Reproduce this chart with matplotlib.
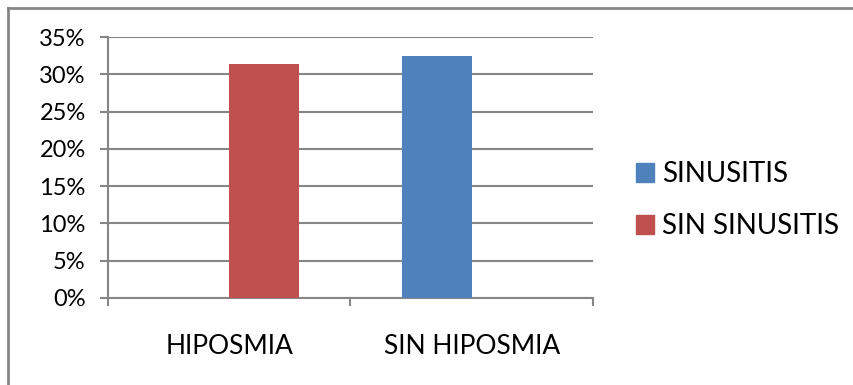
import matplotlib.pyplot as plt
import numpy as np
from matplotlib.patches import Patch

# datos del grafico
categorias = ["HIPOSMIA", "SIN HIPOSMIA"]
series = ["SINUSITIS", "SIN SINUSITIS"]
sinusitis = [0.0, 32.4]
sin_sinusitis = [31.4, 0.0]
colores = ["#4F81BD", "#C0504D"]
ticks_y = [0, 5, 10, 15, 20, 25, 30, 35]

plt.rcParams['font.family'] = ['Lato', 'DejaVu Sans']

fig = plt.figure(figsize=(8.54, 3.85), dpi=100)
ax = fig.add_axes([108/854, 87/385, (593-108)/854, (298-37)/385])

x = np.arange(len(categorias))
ancho = 0.2857
ax.bar(x - ancho/2, sinusitis, ancho, color=colores[0], zorder=3)
ax.bar(x + ancho/2, sin_sinusitis, ancho, color=colores[1], zorder=3)

ax.set_xlim(-0.5, 1.5)
ax.set_ylim(0, 35)
ax.set_yticks(ticks_y)
ax.set_yticklabels([f"{t}%" for t in ticks_y], fontsize=17)
ax.yaxis.grid(True, color="#868686", linewidth=1.5, zorder=0)

# marcas del eje de categorias en los limites
ax.set_xticks([-0.5, 0.5, 1.5])
ax.set_xticklabels([])
ax.set_xticks(x, minor=True)
ax.set_xticklabels(categorias, minor=True, fontsize=19)
ax.tick_params(axis='x', which='minor', length=0, pad=26)
ax.tick_params(axis='x', which='major', length=6, width=1.5, color="#868686")
ax.tick_params(axis='y', length=6, width=1.5, color="#868686", pad=10)

for lado in ["top", "right"]:
    ax.spines[lado].set_visible(False)
for lado in ["left", "bottom"]:
    ax.spines[lado].set_color("#868686")
    ax.spines[lado].set_linewidth(1.5)

handles = [Patch(color=c) for c in colores]
fig.legend(handles, series, loc="center left", bbox_to_anchor=(636/854, 0.48),
           frameon=False, fontsize=20, handlelength=0.65, handleheight=0.65,
           handletextpad=0.3, labelspacing=0.95, borderpad=0, borderaxespad=0)

# marco exterior del grafico
fig.add_artist(plt.Line2D([8/854, 8/854], [0, 1 - 8/385], color="#868686", linewidth=2))
fig.add_artist(plt.Line2D([8/854, 1], [1 - 8/385, 1 - 8/385], color="#868686", linewidth=2))

fig.savefig("out.png", dpi=100)
